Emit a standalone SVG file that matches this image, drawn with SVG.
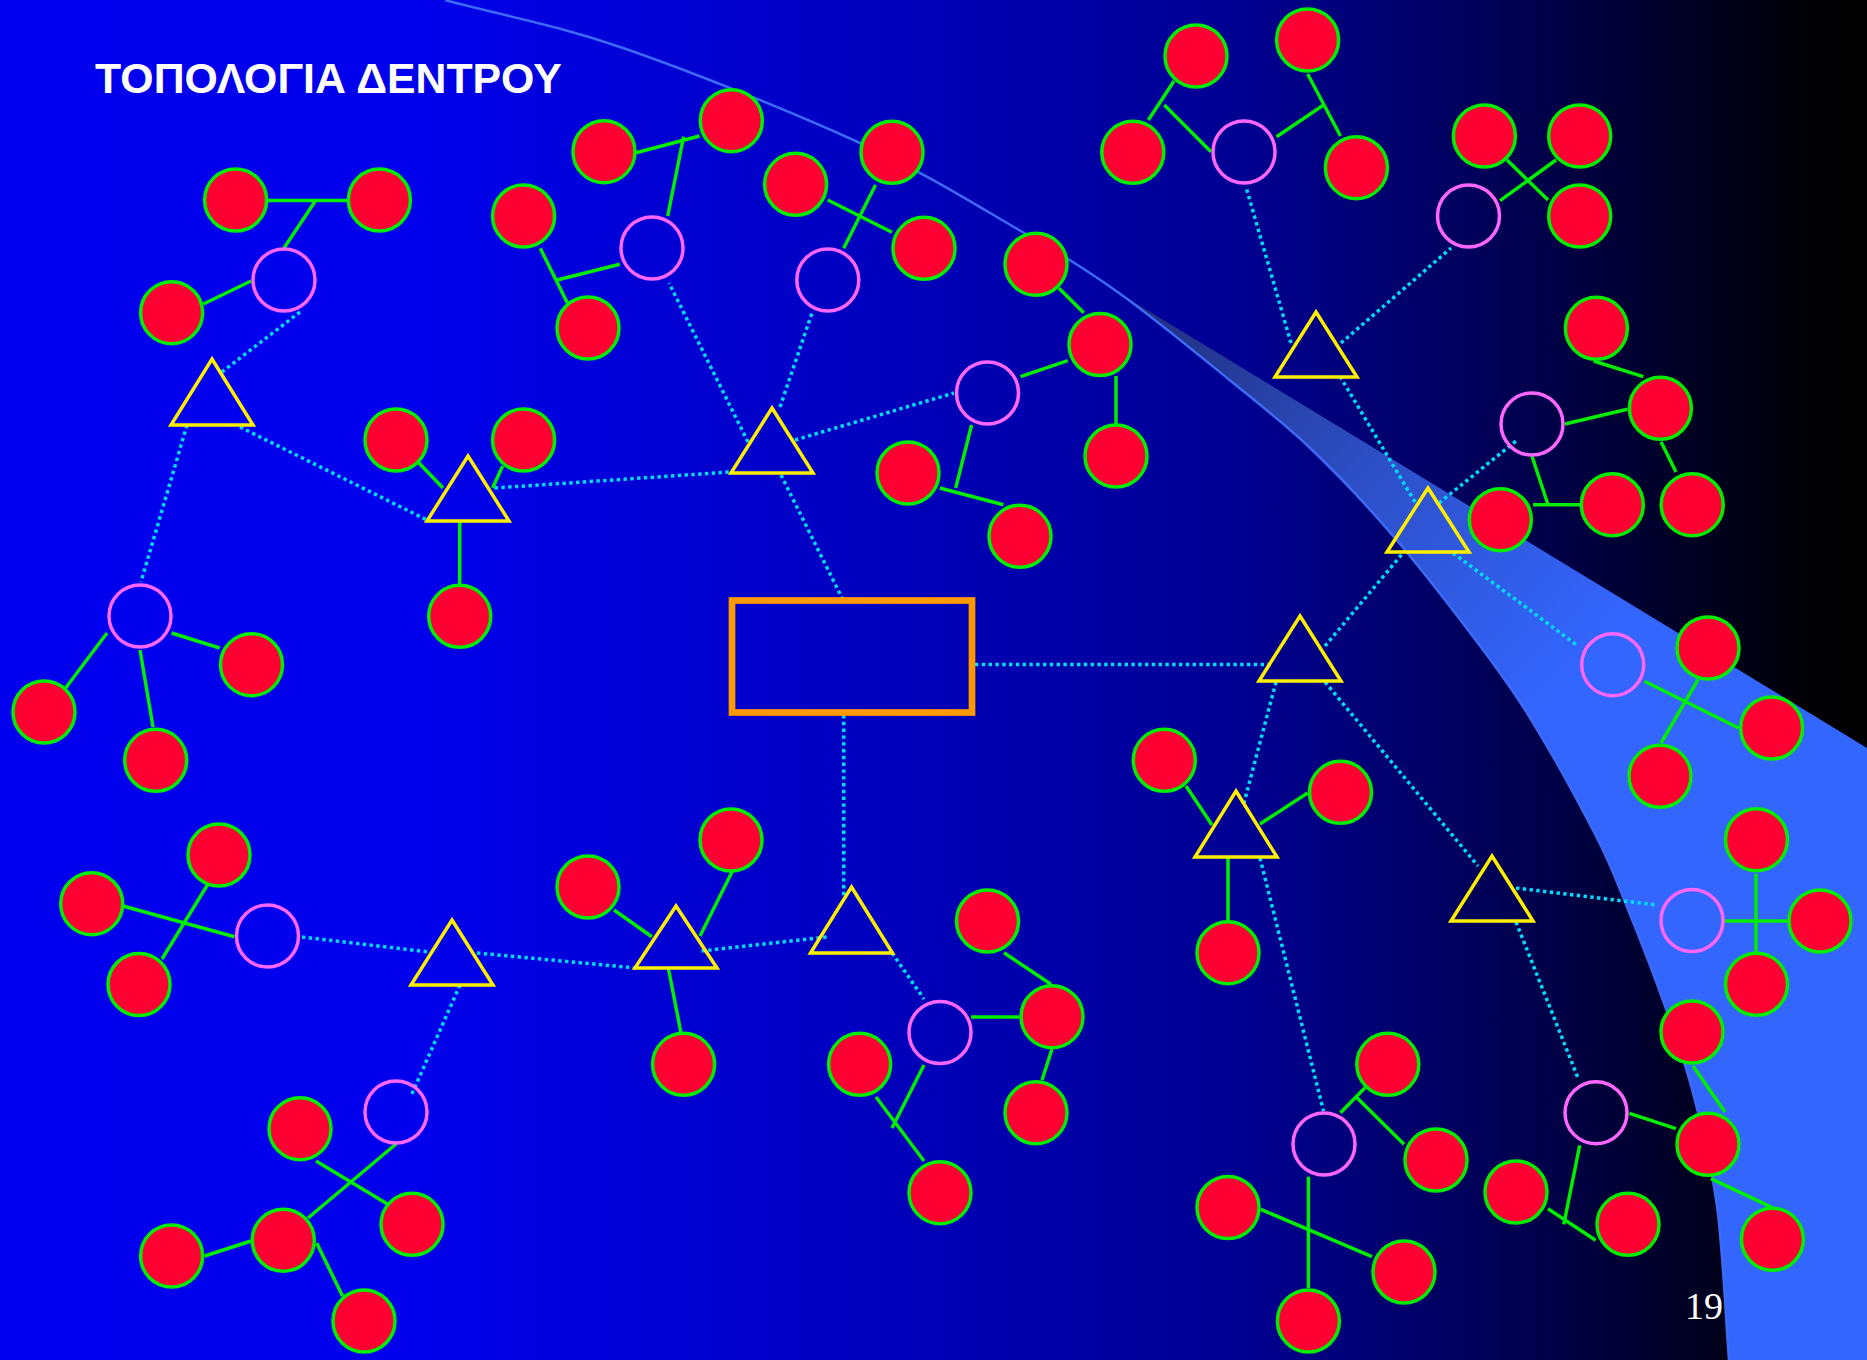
<svg xmlns="http://www.w3.org/2000/svg" width="1867" height="1360" viewBox="0 0 1867 1360">
<defs>
<linearGradient id="bg" x1="0" y1="0" x2="1" y2="0">
<stop offset="0" stop-color="#0000EE"/>
<stop offset="0.22" stop-color="#0000EC"/>
<stop offset="0.33" stop-color="#0000D8"/>
<stop offset="0.46" stop-color="#0000C0"/>
<stop offset="0.67" stop-color="#000090"/>
<stop offset="0.83" stop-color="#000048"/>
<stop offset="0.97" stop-color="#000004"/>
<stop offset="1" stop-color="#000000"/>
</linearGradient>
<linearGradient id="sw" gradientUnits="userSpaceOnUse" x1="1119" y1="293" x2="1560" y2="700">
<stop offset="0" stop-color="#1F2C78"/>
<stop offset="0.5" stop-color="#2D4FC6"/>
<stop offset="1" stop-color="#3366FF"/>
</linearGradient>
<style>
.r{fill:#FF0033;stroke:#00EE00;stroke-width:3.5}
.m{fill:none;stroke:#FF66FF;stroke-width:3.5}
.t{fill:none;stroke:#FFEE00;stroke-width:3.5;stroke-linejoin:miter}
.g{stroke:#00EE00;stroke-width:3.5}
.d{stroke:#00DDFF;stroke-width:3.5;stroke-dasharray:3.4 3.4}
.hub{fill:none;stroke:#FF9900;stroke-width:6.7}
.title{font-family:"Liberation Sans",Arial,sans-serif;font-weight:bold;font-size:42.8px;fill:#FFFFFF}
.pg{font-family:"Liberation Serif","Times New Roman",serif;font-size:38px;fill:#FFFFFF}
</style>
</defs>
<rect width="1867" height="1360" fill="url(#bg)"/>
<path id="swoosh" fill="url(#sw)" d="M1119,293 C1154.1,318 1197.8,354.3 1229.5,380 C1261.2,405.7 1282.6,422 1309,447 C1335.4,472 1361.5,499.5 1388,530 C1414.5,560.5 1444.8,599.5 1468,630 C1491.2,660.5 1505.8,679 1527,713 C1548.2,747 1578.3,801.7 1595,834 C1611.7,866.3 1615.3,878.3 1627,907 C1638.7,935.7 1654,975 1665,1006 C1676,1037 1684.3,1059.7 1693,1093 C1701.7,1126.3 1711,1161.5 1717,1206 C1723,1250.5 1725,1308.7 1729,1360 L1867,1360 L1867,748 Z"/>
<path id="arc" fill="none" stroke="#3D6AF5" stroke-width="2.5" d="M445,0 C504.3,16 553.8,24.2 623,48 C692.2,71.8 794,112.7 860,143 C926,173.3 975.8,205 1019,230 C1062.2,255 1083.9,268 1119,293 C1154.1,318 1197.8,354.3 1229.5,380 C1261.2,405.7 1282.6,422 1309,447 C1335.4,472 1361.5,499.5 1388,530 C1414.5,560.5 1444.8,599.5 1468,630 C1491.2,660.5 1505.8,679 1527,713 C1548.2,747 1578.3,801.7 1595,834 C1611.7,866.3 1615.3,878.3 1627,907 C1638.7,935.7 1654,975 1665,1006 C1676,1037 1684.3,1059.7 1693,1093 C1701.7,1126.3 1711,1161.5 1717,1206 C1723,1250.5 1725,1308.7 1729,1360"/>
<g id="connectors">
<line class="d" x1="300" y1="312" x2="220.5" y2="373"/>
<line class="d" x1="187" y1="425" x2="141" y2="582"/>
<line class="d" x1="240" y1="427" x2="427" y2="520"/>
<line class="d" x1="494.6" y1="488" x2="730" y2="472"/>
<line class="d" x1="781" y1="475" x2="843" y2="600"/>
<line class="d" x1="780" y1="407" x2="812" y2="313"/>
<line class="d" x1="748" y1="442" x2="669" y2="283"/>
<line class="d" x1="795" y1="440" x2="954" y2="393"/>
<line class="d" x1="843.7" y1="715" x2="843.7" y2="897"/>
<line class="d" x1="975" y1="664.5" x2="1274" y2="664.5"/>
<line class="d" x1="1325" y1="646" x2="1403" y2="553"/>
<line class="d" x1="1276" y1="682" x2="1244" y2="803"/>
<line class="d" x1="1325" y1="682" x2="1478" y2="866"/>
<line class="d" x1="1415" y1="502" x2="1341" y2="378"/>
<line class="d" x1="1439" y1="503" x2="1516" y2="441"/>
<line class="d" x1="1453" y1="553" x2="1578" y2="646"/>
<line class="d" x1="1291" y1="343" x2="1246" y2="187"/>
<line class="d" x1="1341" y1="343" x2="1451" y2="248"/>
<line class="d" x1="1260" y1="858" x2="1323.5" y2="1111"/>
<line class="d" x1="1516" y1="888" x2="1657" y2="905"/>
<line class="d" x1="1516" y1="922" x2="1578" y2="1078"/>
<line class="d" x1="302" y1="937" x2="429" y2="952"/>
<line class="d" x1="477" y1="953" x2="636" y2="968"/>
<line class="d" x1="460" y1="985" x2="411" y2="1096"/>
<line class="d" x1="701.5" y1="951" x2="826.6" y2="937"/>
<line class="d" x1="892" y1="953" x2="924" y2="999"/>
<line class="g" x1="267" y1="200.5" x2="348" y2="200.5"/>
<line class="g" x1="315" y1="201.5" x2="284" y2="248"/>
<line class="g" x1="251" y1="281" x2="203.4" y2="304"/>
<line class="g" x1="107" y1="633" x2="65.6" y2="688"/>
<line class="g" x1="171.6" y1="633" x2="219.7" y2="648"/>
<line class="g" x1="140" y1="650" x2="153" y2="727"/>
<line class="g" x1="419" y1="463" x2="443" y2="488"/>
<line class="g" x1="502.6" y1="466" x2="492.6" y2="488"/>
<line class="g" x1="459.7" y1="521" x2="459.7" y2="584"/>
<line class="g" x1="636" y1="152.7" x2="699.5" y2="136"/>
<line class="g" x1="683.6" y1="136.7" x2="667.7" y2="216"/>
<line class="g" x1="540.3" y1="248.3" x2="567.3" y2="302.7"/>
<line class="g" x1="557" y1="280" x2="619.8" y2="264.3"/>
<line class="g" x1="827.8" y1="200" x2="892" y2="232.3"/>
<line class="g" x1="875.5" y1="185" x2="843.7" y2="248.3"/>
<line class="g" x1="1059" y1="288.3" x2="1083.7" y2="312.7"/>
<line class="g" x1="1067.8" y1="360.7" x2="1020.5" y2="376.7"/>
<line class="g" x1="1116" y1="376" x2="1116" y2="424"/>
<line class="g" x1="939.8" y1="488" x2="1003.4" y2="504.7"/>
<line class="g" x1="971.6" y1="425" x2="955.7" y2="488"/>
<line class="g" x1="123" y1="906" x2="234.4" y2="936.7"/>
<line class="g" x1="162" y1="959" x2="208" y2="884"/>
<line class="g" x1="668.5" y1="969" x2="680.8" y2="1032"/>
<line class="g" x1="614" y1="910" x2="651.8" y2="936.7"/>
<line class="g" x1="733" y1="870" x2="700" y2="936"/>
<line class="g" x1="396" y1="1144" x2="308" y2="1218"/>
<line class="g" x1="316" y1="1161" x2="387.4" y2="1204"/>
<line class="g" x1="251" y1="1241" x2="204.6" y2="1256"/>
<line class="g" x1="316.7" y1="1243" x2="342.5" y2="1296"/>
<line class="g" x1="1004" y1="952.7" x2="1051" y2="984.3"/>
<line class="g" x1="971" y1="1017" x2="1019.3" y2="1017"/>
<line class="g" x1="1052" y1="1049" x2="1042" y2="1080"/>
<line class="g" x1="924" y1="1065" x2="892" y2="1128"/>
<line class="g" x1="876" y1="1097" x2="924" y2="1161"/>
<line class="g" x1="1174" y1="81" x2="1148.4" y2="120"/>
<line class="g" x1="1164.3" y1="105" x2="1211" y2="151.7"/>
<line class="g" x1="1307.6" y1="74" x2="1340.5" y2="136"/>
<line class="g" x1="1323.5" y1="105" x2="1276.6" y2="136.7"/>
<line class="g" x1="1507" y1="160" x2="1548" y2="200"/>
<line class="g" x1="1556" y1="160" x2="1500" y2="200.7"/>
<line class="g" x1="1593.6" y1="361" x2="1643.3" y2="376.7"/>
<line class="g" x1="1565" y1="424" x2="1627.4" y2="409.3"/>
<line class="g" x1="1661" y1="441.7" x2="1676" y2="472"/>
<line class="g" x1="1532" y1="456.3" x2="1548" y2="504.7"/>
<line class="g" x1="1533" y1="504.7" x2="1580" y2="504.7"/>
<line class="g" x1="1644.5" y1="681.3" x2="1738.6" y2="728"/>
<line class="g" x1="1698" y1="679.7" x2="1661" y2="743"/>
<line class="g" x1="1186" y1="786" x2="1212" y2="825"/>
<line class="g" x1="1307.6" y1="793" x2="1260" y2="824"/>
<line class="g" x1="1228" y1="857" x2="1228" y2="920"/>
<line class="g" x1="1340.5" y1="1112.7" x2="1365" y2="1087.7"/>
<line class="g" x1="1357" y1="1097.7" x2="1404" y2="1144.3"/>
<line class="g" x1="1308.4" y1="1176.7" x2="1308.4" y2="1288"/>
<line class="g" x1="1260.7" y1="1209.3" x2="1372" y2="1256.7"/>
<line class="g" x1="1724.7" y1="921" x2="1788.3" y2="921"/>
<line class="g" x1="1756" y1="873.7" x2="1756" y2="952.7"/>
<line class="g" x1="1693" y1="1066" x2="1725" y2="1112"/>
<line class="g" x1="1629.4" y1="1113.3" x2="1676" y2="1128.7"/>
<line class="g" x1="1711" y1="1178.7" x2="1772.4" y2="1207.7"/>
<line class="g" x1="1579.7" y1="1145.3" x2="1563.8" y2="1224.3"/>
<line class="g" x1="1548" y1="1208.7" x2="1595.6" y2="1240.3"/>
</g>
<g id="nodes">
<g id="hub"><rect class="hub" x="732" y="600.5" width="240" height="112"/></g>
<g id="t1"><polygon class="t" points="212,359 253,425 171,425"/></g>
<g id="t2"><polygon class="t" points="468,456 509,521 427,521"/></g>
<g id="t3"><polygon class="t" points="772,408 813,473 731,473"/></g>
<g id="t4"><polygon class="t" points="452,920 493,985 411,985"/></g>
<g id="t5"><polygon class="t" points="676,906 717,968 635,968"/></g>
<g id="t6"><polygon class="t" points="851.5,887 892.5,953 810.5,953"/></g>
<g id="t7"><polygon class="t" points="1300,616 1341,681 1259,681"/></g>
<g id="t8"><polygon class="t" points="1428,488 1469,552 1387,552"/></g>
<g id="t9"><polygon class="t" points="1236,791 1277,857 1195,857"/></g>
<g id="t10"><polygon class="t" points="1492,856 1533,921 1451,921"/></g>
<g id="t11"><polygon class="t" points="1316,312 1357,377 1275,377"/></g>
<g id="m1"><circle class="m" cx="284" cy="280" r="31"/></g>
<g id="m2"><circle class="m" cx="140" cy="616" r="31"/></g>
<g id="m3"><circle class="m" cx="827.8" cy="280" r="31"/></g>
<g id="m4"><circle class="m" cx="652" cy="248" r="31"/></g>
<g id="m5"><circle class="m" cx="987.5" cy="393" r="31"/></g>
<g id="m6"><circle class="m" cx="267.5" cy="936" r="31"/></g>
<g id="m7"><circle class="m" cx="396" cy="1112" r="31"/></g>
<g id="m8"><circle class="m" cx="940" cy="1032.5" r="31"/></g>
<g id="m9"><circle class="m" cx="1532" cy="424" r="31"/></g>
<g id="m10"><circle class="m" cx="1612.7" cy="664.7" r="31"/></g>
<g id="m11"><circle class="m" cx="1244" cy="152" r="31"/></g>
<g id="m12"><circle class="m" cx="1468.5" cy="216" r="31"/></g>
<g id="m13"><circle class="m" cx="1324" cy="1144" r="31"/></g>
<g id="m14"><circle class="m" cx="1692" cy="920.5" r="31"/></g>
<g id="m15"><circle class="m" cx="1596" cy="1112.7" r="31"/></g>
<g id="r1"><circle class="r" cx="235.6" cy="200" r="31"/></g>
<g id="r2"><circle class="r" cx="379.4" cy="200" r="31"/></g>
<g id="r3"><circle class="r" cx="171.6" cy="312.7" r="31"/></g>
<g id="r4"><circle class="r" cx="44" cy="712" r="31"/></g>
<g id="r5"><circle class="r" cx="251.5" cy="664.7" r="31"/></g>
<g id="r6"><circle class="r" cx="155.7" cy="760.3" r="31"/></g>
<g id="r7"><circle class="r" cx="396" cy="440" r="31"/></g>
<g id="r8"><circle class="r" cx="523.6" cy="440" r="31"/></g>
<g id="r9"><circle class="r" cx="459.7" cy="616.3" r="31"/></g>
<g id="r10"><circle class="r" cx="604" cy="151.7" r="31"/></g>
<g id="r11"><circle class="r" cx="731.3" cy="120.7" r="31"/></g>
<g id="r12"><circle class="r" cx="523.6" cy="216" r="31"/></g>
<g id="r13"><circle class="r" cx="588" cy="328" r="31"/></g>
<g id="r14"><circle class="r" cx="795.6" cy="184.3" r="31"/></g>
<g id="r15"><circle class="r" cx="892" cy="152.3" r="31"/></g>
<g id="r16"><circle class="r" cx="924" cy="248.3" r="31"/></g>
<g id="r17"><circle class="r" cx="1036" cy="264.3" r="31"/></g>
<g id="r18"><circle class="r" cx="1100" cy="344.5" r="31"/></g>
<g id="r19"><circle class="r" cx="1116" cy="456" r="31"/></g>
<g id="r20"><circle class="r" cx="908" cy="473" r="31"/></g>
<g id="r21"><circle class="r" cx="1020" cy="536.3" r="31"/></g>
<g id="r22"><circle class="r" cx="91.7" cy="903.7" r="31"/></g>
<g id="r23"><circle class="r" cx="219" cy="855" r="31"/></g>
<g id="r24"><circle class="r" cx="139" cy="984.5" r="31"/></g>
<g id="r25"><circle class="r" cx="588" cy="887" r="31"/></g>
<g id="r26"><circle class="r" cx="731" cy="840" r="31"/></g>
<g id="r27"><circle class="r" cx="683.6" cy="1064.3" r="31"/></g>
<g id="r28"><circle class="r" cx="300" cy="1128.7" r="31"/></g>
<g id="r29"><circle class="r" cx="412" cy="1224.3" r="31"/></g>
<g id="r30"><circle class="r" cx="283.3" cy="1240.3" r="31"/></g>
<g id="r31"><circle class="r" cx="171.6" cy="1256" r="31"/></g>
<g id="r32"><circle class="r" cx="364" cy="1321" r="31"/></g>
<g id="r33"><circle class="r" cx="987.5" cy="921" r="31"/></g>
<g id="r34"><circle class="r" cx="1052" cy="1016.7" r="31"/></g>
<g id="r35"><circle class="r" cx="1036" cy="1112.7" r="31"/></g>
<g id="r36"><circle class="r" cx="859.6" cy="1064.3" r="31"/></g>
<g id="r37"><circle class="r" cx="940" cy="1192.7" r="31"/></g>
<g id="r38"><circle class="r" cx="1196" cy="56" r="31"/></g>
<g id="r39"><circle class="r" cx="1307.6" cy="40" r="31"/></g>
<g id="r40"><circle class="r" cx="1132.8" cy="152.3" r="31"/></g>
<g id="r41"><circle class="r" cx="1356.4" cy="167.7" r="31"/></g>
<g id="r42"><circle class="r" cx="1484.4" cy="136" r="31"/></g>
<g id="r43"><circle class="r" cx="1579.7" cy="136" r="31"/></g>
<g id="r44"><circle class="r" cx="1579.7" cy="216" r="31"/></g>
<g id="r45"><circle class="r" cx="1596.4" cy="328.3" r="31"/></g>
<g id="r46"><circle class="r" cx="1660.4" cy="408.3" r="31"/></g>
<g id="r47"><circle class="r" cx="1500.3" cy="519.7" r="31"/></g>
<g id="r48"><circle class="r" cx="1612.3" cy="504.7" r="31"/></g>
<g id="r49"><circle class="r" cx="1692.2" cy="504.7" r="31"/></g>
<g id="r50"><circle class="r" cx="1708" cy="648" r="31"/></g>
<g id="r51"><circle class="r" cx="1771.6" cy="728" r="31"/></g>
<g id="r52"><circle class="r" cx="1660" cy="776.3" r="31"/></g>
<g id="r53"><circle class="r" cx="1164.3" cy="760.3" r="31"/></g>
<g id="r54"><circle class="r" cx="1340.5" cy="792.3" r="31"/></g>
<g id="r55"><circle class="r" cx="1228" cy="952.7" r="31"/></g>
<g id="r56"><circle class="r" cx="1387.8" cy="1064.3" r="31"/></g>
<g id="r57"><circle class="r" cx="1436" cy="1160" r="31"/></g>
<g id="r58"><circle class="r" cx="1228" cy="1207.5" r="31"/></g>
<g id="r59"><circle class="r" cx="1404" cy="1272" r="31"/></g>
<g id="r60"><circle class="r" cx="1308.4" cy="1321" r="31"/></g>
<g id="r61"><circle class="r" cx="1756.5" cy="839.7" r="31"/></g>
<g id="r62"><circle class="r" cx="1820" cy="921" r="31"/></g>
<g id="r63"><circle class="r" cx="1756.5" cy="984.3" r="31"/></g>
<g id="r64"><circle class="r" cx="1692" cy="1032" r="31"/></g>
<g id="r65"><circle class="r" cx="1708" cy="1144.3" r="31"/></g>
<g id="r66"><circle class="r" cx="1516" cy="1192" r="31"/></g>
<g id="r67"><circle class="r" cx="1628" cy="1224.3" r="31"/></g>
<g id="r68"><circle class="r" cx="1772.4" cy="1239.3" r="31"/></g>
</g>
<text class="title" x="95" y="92.5">ΤΟΠΟΛΟΓΙΑ ΔΕΝΤΡΟΥ</text>
<text class="pg" x="1685" y="1319">19</text>
</svg>
